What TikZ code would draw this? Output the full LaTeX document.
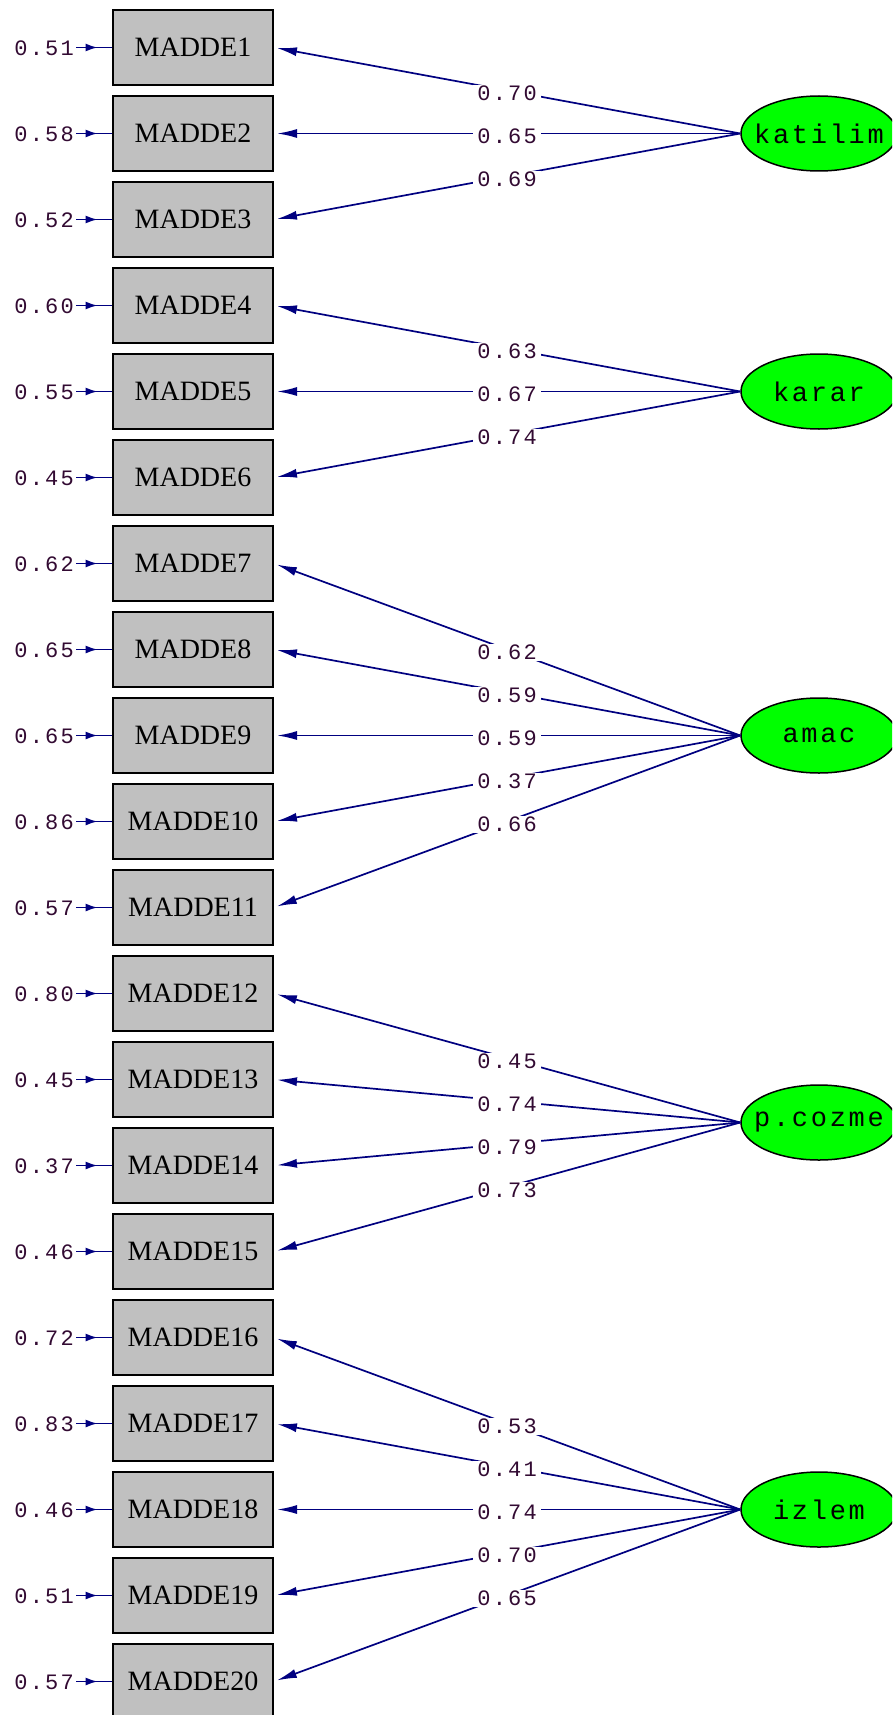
\documentclass[tikz,border=0pt]{standalone}
\usepackage{fontspec}
\usetikzlibrary{arrows.meta,shapes.geometric,decorations.markings}
\setmainfont{Liberation Serif}
\newfontfamily\numfont[LetterSpace=10]{Liberation Mono}
\newfontfamily\latfont[LetterSpace=10]{Liberation Mono}
\definecolor{navy}{RGB}{0,0,128}
\definecolor{boxgray}{RGB}{192,192,192}
\definecolor{latgreen}{RGB}{0,255,0}
\definecolor{numcol}{RGB}{50,10,50}
\begin{document}
\begin{tikzpicture}[x=1pt,y=-1pt,
 obs/.style={draw=black,line width=2pt,fill=boxgray,minimum width=160pt,minimum height=75pt,inner sep=0pt,font=\fontsize{28}{30}\selectfont},
 lat/.style={ellipse,draw=black,line width=1.5pt,fill=latgreen,minimum width=156pt,minimum height=75pt,inner sep=0pt,font=\latfont\fontsize{27}{29}\selectfont},
 errlab/.style={anchor=east,inner xsep=2pt,inner ysep=0pt,text=numcol,font=\numfont\fontsize{22}{24}\selectfont},
 loadlab/.style={fill=white,inner xsep=4pt,inner ysep=1pt,text=numcol,font=\numfont\fontsize{22}{24}\selectfont},
 load/.style={draw=navy,line width=1.7pt,-{Latex[length=20pt,width=9pt]},shorten >=3pt},
 err/.style={draw=navy,line width=1.7pt,postaction={decorate},decoration={markings,mark=at position 0.6 with {\arrow{Latex[length=12pt,width=8pt]}}}}
]
\clip (0,0) rectangle (892,1715);
\fill[white] (0,0) rectangle (892,1715);
\foreach \i/\e in {1/0.51,2/0.58,3/0.52,4/0.60,5/0.55,6/0.45,7/0.62,8/0.65,9/0.65,10/0.86,11/0.57,12/0.80,13/0.45,14/0.37,15/0.46,16/0.72,17/0.83,18/0.46,19/0.51,20/0.57}{
  \node[obs] (m\i) at (193,{47.5+(\i-1)*86}) {MADDE\i};
  \node[errlab] (e\i) at (76,{47.5+(\i-1)*86+1}) {\e};
  \draw[err] (e\i.east |- m\i.west) -- (m\i.west);
}
\node[lat] (katilim) at (819,133.5) {\makebox[0pt]{katilim}};
\node[lat] (karar) at (819,391.5) {\makebox[0pt]{karar}};
\node[lat] (amac) at (819,735.5) {\makebox[0pt]{amac}};
\node[lat] (pcozme) at (819,1122.5) {\makebox[0pt]{p.cozme}};
\node[lat] (izlem) at (819,1509.5) {\makebox[0pt]{izlem}};
\foreach \l/\i/\v in {katilim/1/0.70,katilim/2/0.65,katilim/3/0.69,
  karar/4/0.63,karar/5/0.67,karar/6/0.74,
  amac/7/0.62,amac/8/0.59,amac/9/0.59,amac/10/0.37,amac/11/0.66,
  pcozme/12/0.45,pcozme/13/0.74,pcozme/14/0.79,pcozme/15/0.73,
  izlem/16/0.53,izlem/17/0.41,izlem/18/0.74,izlem/19/0.70,izlem/20/0.65}{
  \draw[load] (\l.west) -- node[loadlab,midway,yshift=-3pt]{\v} (m\i.east);
}
\end{tikzpicture}
\end{document}
